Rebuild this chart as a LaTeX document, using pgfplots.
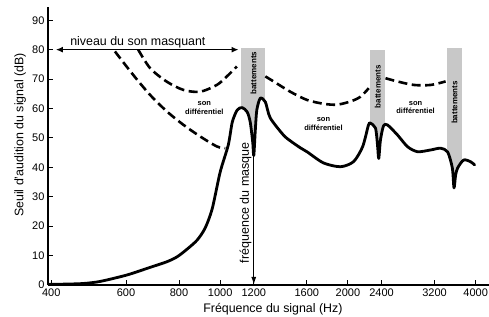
\documentclass[border=0pt]{standalone}
\usepackage{fontspec}
\setmainfont{Liberation Sans}
\usepackage{pgfplots}
\pgfplotsset{compat=1.18}
\usetikzlibrary{arrows.meta}
\definecolor{bargray}{RGB}{200,200,200}
\begin{document}
\begin{tikzpicture}
\begin{axis}[name=ax,
 scale only axis, width=441pt, height=278pt,
 xmode=log, xmin=393, xmax=4300, ymin=0, ymax=94.5,
 axis x line*=bottom, axis y line*=left,
 axis line style={line width=1.3pt},
 xtick={400,600,800,1000,1200,1600,2000,2400,3200,4000},
 xticklabels={400,600,800,1000,1200,1600,2000,2400,3200,4000},
 minor xtick={},
 ytick={0,10,20,30,40,50,60,70,80,90},
 tick style={line width=1pt, black},
 major tick length=5pt,
 tick align=inside,
 ticklabel style={font=\fontsize{11}{13}\selectfont},
 /pgf/number format/assume math mode=true,
 xlabel={Fréquence du signal (Hz)},
 ylabel={Seuil d'audition du signal (dB)},
 label style={font=\fontsize{12.4}{14}\selectfont},
 xlabel style={at={(axis description cs:0.51,-0.1007)}, anchor=base},
 ylabel style={at={(axis description cs:-0.063,0.54)}, anchor=center},
 clip=false, axis on top,
]
% gray bars (battements)
\addplot[draw=none, fill=bargray] coordinates {(1121,80.6) (1278,80.6)} \closedcycle;
\addplot[draw=none, fill=bargray] coordinates {(2260,79.9) (2452,79.9)} \closedcycle;
\addplot[draw=none, fill=bargray] coordinates {(3430,80.6) (3721,80.6)} \closedcycle;
% white area below threshold curve
\addplot[draw=none, fill=white] table {
x y
395 0.2
430 0.3
475 0.5
521 1.2
603 3.4
684 6.0
749 7.9
792 9.6
836 12.2
883 15.3
922 19.4
958 26.0
1000 38.4
1045 47.6
1068 55.4
1097 59.5
1127 60.3
1158 58.8
1177 55.4
1193 48.6
1200 44
1210 52.7
1220 59.5
1243 63.5
1278 62.2
1312 56.8
1409 51.0
1463 49.0
1546 46.6
1605 45.2
1751 41.5
1920 40.2
2061 41.9
2166 47.0
2236 54.4
2260 55.0
2323 53.3
2348 47.6
2364 43
2386 49.3
2426 54.1
2479 54.4
2617 51.0
2764 47.0
2919 45.3
3132 45.9
3308 46.5
3436 45.2
3524 39.8
3556 33.0
3588 37.4
3628 39.8
3748 42.5
3892 41.9
3978 40.8
} \closedcycle;
% threshold curve
\addplot[black, line width=2.8pt, smooth, tension=0.45, line cap=round, line join=round] table {
x y
395 0.2
430 0.3
475 0.5
521 1.2
603 3.4
684 6.0
749 7.9
792 9.6
836 12.2
883 15.3
922 19.4
958 26.0
1000 38.4
1045 47.6
1068 55.4
1097 59.5
1127 60.3
1158 58.8
1177 55.4
1193 48.6
1200 44
1210 52.7
1220 59.5
1243 63.5
1278 62.2
1312 56.8
1409 51.0
1463 49.0
1546 46.6
1605 45.2
1751 41.5
1920 40.2
2061 41.9
2166 47.0
2236 54.4
2260 55.0
2323 53.3
2348 47.6
2364 43
2386 49.3
2426 54.1
2479 54.4
2617 51.0
2764 47.0
2919 45.3
3132 45.9
3308 46.5
3436 45.2
3524 39.8
3556 33.0
3588 37.4
3628 39.8
3748 42.5
3892 41.9
3978 40.8
};
% dashed curves (son differentiel)
\addplot[black, line width=2.6pt, smooth, dash pattern=on 9pt off 4.5pt] coordinates {
(641,80) (684,73.7) (749,69.1) (820,66.3) (897,65.7) (982,68.0) (1037,70.9) (1095,74.3)};
\addplot[black, line width=2.6pt, smooth, dash pattern=on 9pt off 4.5pt] coordinates {
(565,79.4) (624,71.4) (684,64.6) (749,59.0) (820,54.4) (897,50.5) (982,47.1) (1028,46.5)};
\addplot[black, line width=2.6pt, smooth, dash pattern=on 9pt off 4.5pt] coordinates {
(1278,70.9) (1336,69.2) (1463,65.7) (1602,62.9) (1754,61.6) (1886,61.3) (2028,62.4) (2141,64.0) (2239,66.9)};
\addplot[black, line width=2.6pt, smooth, dash pattern=on 9pt off 4.5pt] coordinates {
(2452,70.3) (2614,69.2) (2861,68.0) (3132,68.0) (3398,69.2)};
% masking level arrow
\addplot[black, line width=1.5pt, {Latex[length=7pt,width=6pt]}-{Latex[length=7pt,width=6pt]}] coordinates {(410,80) (1105,80)};
% masker frequency arrow
\addplot[black, line width=1.4pt, -{Latex[length=8pt,width=5pt]}] coordinates {(1200,46) (1200,0)};
% texts
\node[anchor=base, font=\fontsize{12.4}{14}\selectfont] at (axis cs:640,81.5) {niveau du son masquant};
\node[rotate=90, font=\fontsize{8}{9}\selectfont\bfseries] at (axis cs:1198,72) {battements};
\node[rotate=90, font=\fontsize{8}{9}\selectfont\bfseries] at (axis cs:2350,67.4) {battements};
\node[rotate=90, font=\fontsize{8}{9}\selectfont\bfseries] at (axis cs:3567,62) {battements};
\node[align=center, font=\fontsize{7.5}{8.5}\selectfont\bfseries] at (axis cs:918,60.2) {son\\différentiel};
\node[align=center, font=\fontsize{7.5}{8.5}\selectfont\bfseries] at (axis cs:1751,54.8) {son\\différentiel};
\node[align=center, font=\fontsize{7.5}{8.5}\selectfont\bfseries] at (axis cs:2887,60.4) {son\\différentiel};
\node[rotate=90, font=\fontsize{12.5}{14}\selectfont] at (axis cs:1147,27.9) {fréquence du masque};
\end{axis}
\path (ax.south west) ++(-48pt,-32pt) coordinate (bl);
\path (ax.north east) ++(0pt,7pt) coordinate (tr);
\pgfresetboundingbox
\path[use as bounding box] (bl) rectangle (tr);
\end{tikzpicture}
\end{document}
